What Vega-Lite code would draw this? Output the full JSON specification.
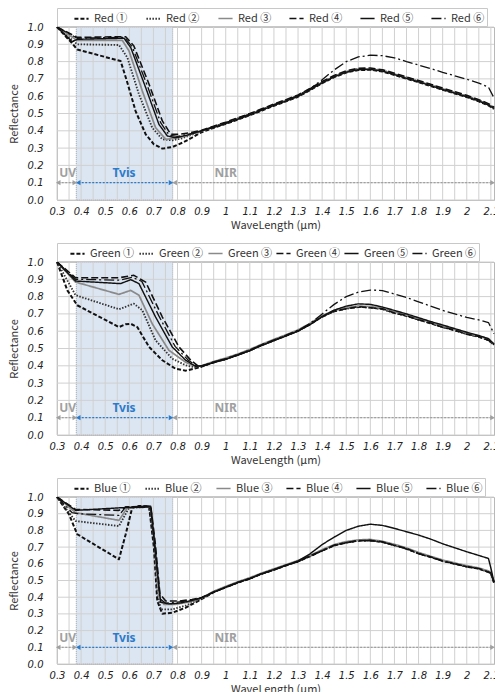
{
"$schema":"https://vega.github.io/schema/vega-lite/v6.json",
"padding":{"left":7,"top":7,"right":0,"bottom":0},
"background":"white",
"spacing":11,
"config":{"view":{"stroke":"#b8b8b8","strokeWidth":1},
"axisX":{"grid":false,"ticks":false,"domain":false,"labelFont":"DejaVu Sans","labelFontStyle":"italic","labelFontSize":10,"labelColor":"#222","labelPadding":6,"labelFlush":false,"titleFont":"Noto Sans CJK KR","titleFontSize":11,"titleFontWeight":"normal","titleColor":"#333","titlePadding":3},
"axisY":{"grid":false,"ticks":false,"domain":false,"labelFont":"DejaVu Sans","labelFontStyle":"italic","labelFontSize":10,"labelColor":"#222","labelPadding":14,"titleFont":"Noto Sans CJK KR","titleFontSize":11,"titleFontWeight":"normal","titleColor":"#333","titlePadding":8},
"legend":{"orient":"none","legendX":0,"legendY":-19,"direction":"horizontal","columns":6,"symbolType":"stroke","symbolSize":200,"symbolStrokeWidth":1.6,"labelFont":"Noto Sans CJK KR","labelFontSize":11,"labelColor":"#333","labelOffset":4,"padding":2,"strokeColor":"#c8c8c8","titleOrient":"left","titlePadding":14,"titleFontSize":11}},
"datasets":{
"band":[{"x":0.38,"x2":0.78,"y":0,"y2":1}],
"gx":[{"v":0.3},{"v":0.35},{"v":0.4},{"v":0.45},{"v":0.5},{"v":0.55},{"v":0.6},{"v":0.65},{"v":0.7},{"v":0.75},{"v":0.8},{"v":0.85},{"v":0.9},{"v":0.95},{"v":1.0},{"v":1.05},{"v":1.1},{"v":1.15},{"v":1.2},{"v":1.25},{"v":1.3},{"v":1.35},{"v":1.4},{"v":1.45},{"v":1.5},{"v":1.55},{"v":1.6},{"v":1.65},{"v":1.7},{"v":1.75},{"v":1.8},{"v":1.85},{"v":1.9},{"v":1.95},{"v":2.0},{"v":2.05},{"v":2.1}],
"gy":[{"v":0},{"v":0.1},{"v":0.2},{"v":0.3},{"v":0.4},{"v":0.5},{"v":0.6},{"v":0.7},{"v":0.8},{"v":0.9},{"v":1}],
"zones":[{"zone":"UV","x":0.305,"x2":0.374,"lx":0.344},{"zone":"Tvis","x":0.388,"x2":0.773,"lx":0.578},{"zone":"NIR","x":0.788,"x2":2.107,"lx":1.0}],
"red":[
{"s":"Red ①","x":0.3,"y":1},{"s":"Red ①","x":0.36,"y":0.91},{"s":"Red ①","x":0.384,"y":0.87},{"s":"Red ①","x":0.564,"y":0.803},{"s":"Red ①","x":0.592,"y":0.678},{"s":"Red ①","x":0.626,"y":0.514},{"s":"Red ①","x":0.668,"y":0.38},{"s":"Red ①","x":0.702,"y":0.322},{"s":"Red ①","x":0.737,"y":0.297},{"s":"Red ①","x":0.778,"y":0.306},{"s":"Red ①","x":0.82,"y":0.331},{"s":"Red ①","x":0.86,"y":0.36},{"s":"Red ①","x":0.9,"y":0.392},
{"s":"Red ①","x":0.95,"y":0.417},{"s":"Red ①","x":1.0,"y":0.44},{"s":"Red ①","x":1.05,"y":0.465},{"s":"Red ①","x":1.1,"y":0.49},{"s":"Red ①","x":1.15,"y":0.517},{"s":"Red ①","x":1.2,"y":0.545},{"s":"Red ①","x":1.25,"y":0.57},{"s":"Red ①","x":1.3,"y":0.597},{"s":"Red ①","x":1.35,"y":0.635},{"s":"Red ①","x":1.4,"y":0.675},{"s":"Red ①","x":1.45,"y":0.71},{"s":"Red ①","x":1.5,"y":0.737},{"s":"Red ①","x":1.55,"y":0.751},{"s":"Red ①","x":1.6,"y":0.753},{"s":"Red ①","x":1.65,"y":0.743},{"s":"Red ①","x":1.7,"y":0.723},{"s":"Red ①","x":1.75,"y":0.701},{"s":"Red ①","x":1.8,"y":0.681},{"s":"Red ①","x":1.85,"y":0.659},{"s":"Red ①","x":1.9,"y":0.637},{"s":"Red ①","x":1.95,"y":0.616},{"s":"Red ①","x":2.0,"y":0.595},{"s":"Red ①","x":2.05,"y":0.57},{"s":"Red ①","x":2.09,"y":0.547},{"s":"Red ①","x":2.113,"y":0.527},
{"s":"Red ②","x":0.3,"y":1},{"s":"Red ②","x":0.384,"y":0.9},{"s":"Red ②","x":0.557,"y":0.896},{"s":"Red ②","x":0.592,"y":0.823},{"s":"Red ②","x":0.64,"y":0.611},{"s":"Red ②","x":0.695,"y":0.418},{"s":"Red ②","x":0.737,"y":0.351},{"s":"Red ②","x":0.778,"y":0.345},{"s":"Red ②","x":0.82,"y":0.357},{"s":"Red ②","x":0.86,"y":0.378},{"s":"Red ②","x":0.9,"y":0.398},
{"s":"Red ②","x":0.95,"y":0.424},{"s":"Red ②","x":1.0,"y":0.443},{"s":"Red ②","x":1.05,"y":0.472},{"s":"Red ②","x":1.1,"y":0.493},{"s":"Red ②","x":1.15,"y":0.524},{"s":"Red ②","x":1.2,"y":0.548},{"s":"Red ②","x":1.25,"y":0.577},{"s":"Red ②","x":1.3,"y":0.6},{"s":"Red ②","x":1.35,"y":0.642},{"s":"Red ②","x":1.4,"y":0.678},{"s":"Red ②","x":1.45,"y":0.717},{"s":"Red ②","x":1.5,"y":0.74},{"s":"Red ②","x":1.55,"y":0.758},{"s":"Red ②","x":1.6,"y":0.756},{"s":"Red ②","x":1.65,"y":0.75},{"s":"Red ②","x":1.7,"y":0.726},{"s":"Red ②","x":1.75,"y":0.708},{"s":"Red ②","x":1.8,"y":0.684},{"s":"Red ②","x":1.85,"y":0.666},{"s":"Red ②","x":1.9,"y":0.64},{"s":"Red ②","x":1.95,"y":0.623},{"s":"Red ②","x":2.0,"y":0.598},{"s":"Red ②","x":2.05,"y":0.577},{"s":"Red ②","x":2.09,"y":0.55},{"s":"Red ②","x":2.113,"y":0.534},
{"s":"Red ③","x":0.3,"y":1},{"s":"Red ③","x":0.384,"y":0.922},{"s":"Red ③","x":0.571,"y":0.923},{"s":"Red ③","x":0.599,"y":0.861},{"s":"Red ③","x":0.654,"y":0.63},{"s":"Red ③","x":0.709,"y":0.418},{"s":"Red ③","x":0.751,"y":0.351},{"s":"Red ③","x":0.792,"y":0.357},{"s":"Red ③","x":0.84,"y":0.372},{"s":"Red ③","x":0.9,"y":0.4},
{"s":"Red ③","x":0.95,"y":0.422},{"s":"Red ③","x":1.0,"y":0.445},{"s":"Red ③","x":1.05,"y":0.47},{"s":"Red ③","x":1.1,"y":0.495},{"s":"Red ③","x":1.15,"y":0.522},{"s":"Red ③","x":1.2,"y":0.55},{"s":"Red ③","x":1.25,"y":0.575},{"s":"Red ③","x":1.3,"y":0.602},{"s":"Red ③","x":1.35,"y":0.64},{"s":"Red ③","x":1.4,"y":0.68},{"s":"Red ③","x":1.45,"y":0.715},{"s":"Red ③","x":1.5,"y":0.742},{"s":"Red ③","x":1.55,"y":0.756},{"s":"Red ③","x":1.6,"y":0.758},{"s":"Red ③","x":1.65,"y":0.748},{"s":"Red ③","x":1.7,"y":0.728},{"s":"Red ③","x":1.75,"y":0.706},{"s":"Red ③","x":1.8,"y":0.686},{"s":"Red ③","x":1.85,"y":0.664},{"s":"Red ③","x":1.9,"y":0.642},{"s":"Red ③","x":1.95,"y":0.621},{"s":"Red ③","x":2.0,"y":0.6},{"s":"Red ③","x":2.05,"y":0.575},{"s":"Red ③","x":2.09,"y":0.552},{"s":"Red ③","x":2.113,"y":0.532},
{"s":"Red ④","x":0.3,"y":1},{"s":"Red ④","x":0.384,"y":0.94},{"s":"Red ④","x":0.585,"y":0.944},{"s":"Red ④","x":0.619,"y":0.89},{"s":"Red ④","x":0.682,"y":0.669},{"s":"Red ④","x":0.737,"y":0.457},{"s":"Red ④","x":0.772,"y":0.38},{"s":"Red ④","x":0.806,"y":0.38},{"s":"Red ④","x":0.85,"y":0.388},{"s":"Red ④","x":0.9,"y":0.403},
{"s":"Red ④","x":0.95,"y":0.427},{"s":"Red ④","x":1.0,"y":0.45},{"s":"Red ④","x":1.05,"y":0.475},{"s":"Red ④","x":1.1,"y":0.5},{"s":"Red ④","x":1.15,"y":0.527},{"s":"Red ④","x":1.2,"y":0.555},{"s":"Red ④","x":1.25,"y":0.58},{"s":"Red ④","x":1.3,"y":0.607},{"s":"Red ④","x":1.35,"y":0.645},{"s":"Red ④","x":1.4,"y":0.685},{"s":"Red ④","x":1.45,"y":0.72},{"s":"Red ④","x":1.5,"y":0.747},{"s":"Red ④","x":1.55,"y":0.761},{"s":"Red ④","x":1.6,"y":0.763},{"s":"Red ④","x":1.65,"y":0.753},{"s":"Red ④","x":1.7,"y":0.733},{"s":"Red ④","x":1.75,"y":0.711},{"s":"Red ④","x":1.8,"y":0.691},{"s":"Red ④","x":1.85,"y":0.669},{"s":"Red ④","x":1.9,"y":0.647},{"s":"Red ④","x":1.95,"y":0.626},{"s":"Red ④","x":2.0,"y":0.605},{"s":"Red ④","x":2.05,"y":0.58},{"s":"Red ④","x":2.09,"y":0.557},{"s":"Red ④","x":2.113,"y":0.537},
{"s":"Red ⑤","x":0.3,"y":1},{"s":"Red ⑤","x":0.363,"y":0.915},{"s":"Red ⑤","x":0.384,"y":0.929},{"s":"Red ⑤","x":0.578,"y":0.935},{"s":"Red ⑤","x":0.606,"y":0.881},{"s":"Red ⑤","x":0.668,"y":0.649},{"s":"Red ⑤","x":0.723,"y":0.437},{"s":"Red ⑤","x":0.758,"y":0.37},{"s":"Red ⑤","x":0.792,"y":0.36},{"s":"Red ⑤","x":0.84,"y":0.375},{"s":"Red ⑤","x":0.9,"y":0.4},
{"s":"Red ⑤","x":0.95,"y":0.419},{"s":"Red ⑤","x":1.0,"y":0.442},{"s":"Red ⑤","x":1.05,"y":0.467},{"s":"Red ⑤","x":1.1,"y":0.492},{"s":"Red ⑤","x":1.15,"y":0.519},{"s":"Red ⑤","x":1.2,"y":0.547},{"s":"Red ⑤","x":1.25,"y":0.572},{"s":"Red ⑤","x":1.3,"y":0.599},{"s":"Red ⑤","x":1.35,"y":0.637},{"s":"Red ⑤","x":1.4,"y":0.677},{"s":"Red ⑤","x":1.45,"y":0.712},{"s":"Red ⑤","x":1.5,"y":0.739},{"s":"Red ⑤","x":1.55,"y":0.753},{"s":"Red ⑤","x":1.6,"y":0.755},{"s":"Red ⑤","x":1.65,"y":0.745},{"s":"Red ⑤","x":1.7,"y":0.725},{"s":"Red ⑤","x":1.75,"y":0.703},{"s":"Red ⑤","x":1.8,"y":0.683},{"s":"Red ⑤","x":1.85,"y":0.661},{"s":"Red ⑤","x":1.9,"y":0.639},{"s":"Red ⑤","x":1.95,"y":0.618},{"s":"Red ⑤","x":2.0,"y":0.597},{"s":"Red ⑤","x":2.05,"y":0.572},{"s":"Red ⑤","x":2.09,"y":0.549},{"s":"Red ⑤","x":2.113,"y":0.529},
{"s":"Red ⑥","x":0.3,"y":1},{"s":"Red ⑥","x":0.384,"y":0.935},{"s":"Red ⑥","x":0.58,"y":0.94},{"s":"Red ⑥","x":0.612,"y":0.886},{"s":"Red ⑥","x":0.675,"y":0.66},{"s":"Red ⑥","x":0.73,"y":0.447},{"s":"Red ⑥","x":0.765,"y":0.375},{"s":"Red ⑥","x":0.8,"y":0.368},{"s":"Red ⑥","x":0.85,"y":0.382},{"s":"Red ⑥","x":0.9,"y":0.401},
{"s":"Red ⑥","x":0.95,"y":0.424},{"s":"Red ⑥","x":1.0,"y":0.447},{"s":"Red ⑥","x":1.05,"y":0.472},{"s":"Red ⑥","x":1.1,"y":0.497},{"s":"Red ⑥","x":1.15,"y":0.524},{"s":"Red ⑥","x":1.2,"y":0.552},{"s":"Red ⑥","x":1.25,"y":0.577},{"s":"Red ⑥","x":1.3,"y":0.604},{"s":"Red ⑥","x":1.35,"y":0.643},{"s":"Red ⑥","x":1.4,"y":0.695},{"s":"Red ⑥","x":1.45,"y":0.752},{"s":"Red ⑥","x":1.5,"y":0.8},{"s":"Red ⑥","x":1.55,"y":0.827},{"s":"Red ⑥","x":1.6,"y":0.837},{"s":"Red ⑥","x":1.65,"y":0.834},{"s":"Red ⑥","x":1.7,"y":0.822},{"s":"Red ⑥","x":1.75,"y":0.8},{"s":"Red ⑥","x":1.8,"y":0.78},{"s":"Red ⑥","x":1.85,"y":0.76},{"s":"Red ⑥","x":1.9,"y":0.738},{"s":"Red ⑥","x":1.95,"y":0.718},{"s":"Red ⑥","x":2.0,"y":0.698},{"s":"Red ⑥","x":2.05,"y":0.676},{"s":"Red ⑥","x":2.09,"y":0.652},{"s":"Red ⑥","x":2.113,"y":0.59}
],
"green":[
{"s":"Green ①","x":0.3,"y":1},{"s":"Green ①","x":0.343,"y":0.836},{"s":"Green ①","x":0.384,"y":0.75},{"s":"Green ①","x":0.557,"y":0.624},{"s":"Green ①","x":0.585,"y":0.64},{"s":"Green ①","x":0.606,"y":0.643},{"s":"Green ①","x":0.633,"y":0.624},{"s":"Green ①","x":0.682,"y":0.509},{"s":"Green ①","x":0.737,"y":0.432},{"s":"Green ①","x":0.792,"y":0.383},{"s":"Green ①","x":0.834,"y":0.372},{"s":"Green ①","x":0.875,"y":0.385},{"s":"Green ①","x":0.9,"y":0.395},
{"s":"Green ①","x":0.95,"y":0.42},{"s":"Green ①","x":1.0,"y":0.44},{"s":"Green ①","x":1.05,"y":0.463},{"s":"Green ①","x":1.1,"y":0.49},{"s":"Green ①","x":1.15,"y":0.52},{"s":"Green ①","x":1.2,"y":0.548},{"s":"Green ①","x":1.25,"y":0.574},{"s":"Green ①","x":1.3,"y":0.603},{"s":"Green ①","x":1.35,"y":0.64},{"s":"Green ①","x":1.4,"y":0.685},{"s":"Green ①","x":1.45,"y":0.715},{"s":"Green ①","x":1.5,"y":0.732},{"s":"Green ①","x":1.55,"y":0.74},{"s":"Green ①","x":1.6,"y":0.738},{"s":"Green ①","x":1.65,"y":0.728},{"s":"Green ①","x":1.7,"y":0.707},{"s":"Green ①","x":1.75,"y":0.688},{"s":"Green ①","x":1.8,"y":0.668},{"s":"Green ①","x":1.85,"y":0.645},{"s":"Green ①","x":1.9,"y":0.625},{"s":"Green ①","x":1.95,"y":0.605},{"s":"Green ①","x":2.0,"y":0.585},{"s":"Green ①","x":2.05,"y":0.567},{"s":"Green ①","x":2.09,"y":0.55},{"s":"Green ①","x":2.113,"y":0.52},
{"s":"Green ②","x":0.3,"y":1},{"s":"Green ②","x":0.377,"y":0.808},{"s":"Green ②","x":0.557,"y":0.727},{"s":"Green ②","x":0.619,"y":0.759},{"s":"Green ②","x":0.654,"y":0.721},{"s":"Green ②","x":0.709,"y":0.547},{"s":"Green ②","x":0.778,"y":0.441},{"s":"Green ②","x":0.834,"y":0.403},{"s":"Green ②","x":0.875,"y":0.39},{"s":"Green ②","x":0.9,"y":0.398},
{"s":"Green ②","x":0.95,"y":0.422},{"s":"Green ②","x":1.0,"y":0.438},{"s":"Green ②","x":1.05,"y":0.465},{"s":"Green ②","x":1.1,"y":0.488},{"s":"Green ②","x":1.15,"y":0.522},{"s":"Green ②","x":1.2,"y":0.546},{"s":"Green ②","x":1.25,"y":0.576},{"s":"Green ②","x":1.3,"y":0.601},{"s":"Green ②","x":1.35,"y":0.642},{"s":"Green ②","x":1.4,"y":0.683},{"s":"Green ②","x":1.45,"y":0.717},{"s":"Green ②","x":1.5,"y":0.73},{"s":"Green ②","x":1.55,"y":0.742},{"s":"Green ②","x":1.6,"y":0.736},{"s":"Green ②","x":1.65,"y":0.73},{"s":"Green ②","x":1.7,"y":0.705},{"s":"Green ②","x":1.75,"y":0.69},{"s":"Green ②","x":1.8,"y":0.666},{"s":"Green ②","x":1.85,"y":0.647},{"s":"Green ②","x":1.9,"y":0.623},{"s":"Green ②","x":1.95,"y":0.607},{"s":"Green ②","x":2.0,"y":0.583},{"s":"Green ②","x":2.05,"y":0.569},{"s":"Green ②","x":2.09,"y":0.548},{"s":"Green ②","x":2.113,"y":0.522},
{"s":"Green ③","x":0.3,"y":1},{"s":"Green ③","x":0.377,"y":0.884},{"s":"Green ③","x":0.557,"y":0.813},{"s":"Green ③","x":0.606,"y":0.836},{"s":"Green ③","x":0.64,"y":0.808},{"s":"Green ③","x":0.695,"y":0.643},{"s":"Green ③","x":0.764,"y":0.49},{"s":"Green ③","x":0.834,"y":0.42},{"s":"Green ③","x":0.875,"y":0.397},{"s":"Green ③","x":0.9,"y":0.4},
{"s":"Green ③","x":0.95,"y":0.425},{"s":"Green ③","x":1.0,"y":0.445},{"s":"Green ③","x":1.05,"y":0.468},{"s":"Green ③","x":1.1,"y":0.495},{"s":"Green ③","x":1.15,"y":0.525},{"s":"Green ③","x":1.2,"y":0.553},{"s":"Green ③","x":1.25,"y":0.579},{"s":"Green ③","x":1.3,"y":0.608},{"s":"Green ③","x":1.35,"y":0.645},{"s":"Green ③","x":1.4,"y":0.69},{"s":"Green ③","x":1.45,"y":0.72},{"s":"Green ③","x":1.5,"y":0.737},{"s":"Green ③","x":1.55,"y":0.745},{"s":"Green ③","x":1.6,"y":0.743},{"s":"Green ③","x":1.65,"y":0.733},{"s":"Green ③","x":1.7,"y":0.712},{"s":"Green ③","x":1.75,"y":0.693},{"s":"Green ③","x":1.8,"y":0.673},{"s":"Green ③","x":1.85,"y":0.65},{"s":"Green ③","x":1.9,"y":0.63},{"s":"Green ③","x":1.95,"y":0.61},{"s":"Green ③","x":2.0,"y":0.59},{"s":"Green ③","x":2.05,"y":0.572},{"s":"Green ③","x":2.09,"y":0.555},{"s":"Green ③","x":2.113,"y":0.525},
{"s":"Green ④","x":0.3,"y":1},{"s":"Green ④","x":0.377,"y":0.909},{"s":"Green ④","x":0.557,"y":0.909},{"s":"Green ④","x":0.619,"y":0.923},{"s":"Green ④","x":0.668,"y":0.884},{"s":"Green ④","x":0.737,"y":0.682},{"s":"Green ④","x":0.806,"y":0.509},{"s":"Green ④","x":0.855,"y":0.432},{"s":"Green ④","x":0.889,"y":0.395},{"s":"Green ④","x":0.92,"y":0.405},
{"s":"Green ④","x":0.95,"y":0.422},{"s":"Green ④","x":1.0,"y":0.438},{"s":"Green ④","x":1.05,"y":0.465},{"s":"Green ④","x":1.1,"y":0.488},{"s":"Green ④","x":1.15,"y":0.522},{"s":"Green ④","x":1.2,"y":0.546},{"s":"Green ④","x":1.25,"y":0.576},{"s":"Green ④","x":1.3,"y":0.601},{"s":"Green ④","x":1.35,"y":0.642},{"s":"Green ④","x":1.4,"y":0.683},{"s":"Green ④","x":1.45,"y":0.717},{"s":"Green ④","x":1.5,"y":0.73},{"s":"Green ④","x":1.55,"y":0.742},{"s":"Green ④","x":1.6,"y":0.736},{"s":"Green ④","x":1.65,"y":0.73},{"s":"Green ④","x":1.7,"y":0.705},{"s":"Green ④","x":1.75,"y":0.69},{"s":"Green ④","x":1.8,"y":0.666},{"s":"Green ④","x":1.85,"y":0.647},{"s":"Green ④","x":1.9,"y":0.623},{"s":"Green ④","x":1.95,"y":0.607},{"s":"Green ④","x":2.0,"y":0.583},{"s":"Green ④","x":2.05,"y":0.569},{"s":"Green ④","x":2.09,"y":0.548},{"s":"Green ④","x":2.113,"y":0.522},
{"s":"Green ⑤","x":0.3,"y":1},{"s":"Green ⑤","x":0.377,"y":0.89},{"s":"Green ⑤","x":0.564,"y":0.875},{"s":"Green ⑤","x":0.606,"y":0.898},{"s":"Green ⑤","x":0.64,"y":0.875},{"s":"Green ⑤","x":0.709,"y":0.682},{"s":"Green ⑤","x":0.778,"y":0.509},{"s":"Green ⑤","x":0.834,"y":0.432},{"s":"Green ⑤","x":0.875,"y":0.397},{"s":"Green ⑤","x":0.9,"y":0.4},
{"s":"Green ⑤","x":0.95,"y":0.418},{"s":"Green ⑤","x":1.0,"y":0.438},{"s":"Green ⑤","x":1.05,"y":0.461},{"s":"Green ⑤","x":1.1,"y":0.488},{"s":"Green ⑤","x":1.15,"y":0.518},{"s":"Green ⑤","x":1.2,"y":0.546},{"s":"Green ⑤","x":1.25,"y":0.572},{"s":"Green ⑤","x":1.3,"y":0.601},{"s":"Green ⑤","x":1.35,"y":0.638},{"s":"Green ⑤","x":1.4,"y":0.685},{"s":"Green ⑤","x":1.45,"y":0.722},{"s":"Green ⑤","x":1.5,"y":0.745},{"s":"Green ⑤","x":1.55,"y":0.758},{"s":"Green ⑤","x":1.6,"y":0.755},{"s":"Green ⑤","x":1.65,"y":0.74},{"s":"Green ⑤","x":1.7,"y":0.72},{"s":"Green ⑤","x":1.75,"y":0.7},{"s":"Green ⑤","x":1.8,"y":0.678},{"s":"Green ⑤","x":1.85,"y":0.656},{"s":"Green ⑤","x":1.9,"y":0.636},{"s":"Green ⑤","x":1.95,"y":0.615},{"s":"Green ⑤","x":2.0,"y":0.594},{"s":"Green ⑤","x":2.05,"y":0.575},{"s":"Green ⑤","x":2.09,"y":0.557},{"s":"Green ⑤","x":2.113,"y":0.525},
{"s":"Green ⑥","x":0.3,"y":1},{"s":"Green ⑥","x":0.377,"y":0.9},{"s":"Green ⑥","x":0.56,"y":0.895},{"s":"Green ⑥","x":0.612,"y":0.912},{"s":"Green ⑥","x":0.652,"y":0.888},{"s":"Green ⑥","x":0.722,"y":0.69},{"s":"Green ⑥","x":0.79,"y":0.512},{"s":"Green ⑥","x":0.845,"y":0.432},{"s":"Green ⑥","x":0.882,"y":0.396},{"s":"Green ⑥","x":0.91,"y":0.402},
{"s":"Green ⑥","x":0.95,"y":0.422},{"s":"Green ⑥","x":1.0,"y":0.442},{"s":"Green ⑥","x":1.05,"y":0.465},{"s":"Green ⑥","x":1.1,"y":0.492},{"s":"Green ⑥","x":1.15,"y":0.522},{"s":"Green ⑥","x":1.2,"y":0.55},{"s":"Green ⑥","x":1.25,"y":0.576},{"s":"Green ⑥","x":1.3,"y":0.605},{"s":"Green ⑥","x":1.35,"y":0.645},{"s":"Green ⑥","x":1.4,"y":0.7},{"s":"Green ⑥","x":1.45,"y":0.755},{"s":"Green ⑥","x":1.5,"y":0.8},{"s":"Green ⑥","x":1.55,"y":0.826},{"s":"Green ⑥","x":1.6,"y":0.838},{"s":"Green ⑥","x":1.65,"y":0.835},{"s":"Green ⑥","x":1.7,"y":0.815},{"s":"Green ⑥","x":1.75,"y":0.795},{"s":"Green ⑥","x":1.8,"y":0.77},{"s":"Green ⑥","x":1.85,"y":0.745},{"s":"Green ⑥","x":1.9,"y":0.72},{"s":"Green ⑥","x":1.95,"y":0.7},{"s":"Green ⑥","x":2.0,"y":0.68},{"s":"Green ⑥","x":2.05,"y":0.665},{"s":"Green ⑥","x":2.09,"y":0.65},{"s":"Green ⑥","x":2.113,"y":0.586}
],
"blue":[
{"s":"Blue ①","x":0.3,"y":1},{"s":"Blue ①","x":0.35,"y":0.896},{"s":"Blue ①","x":0.384,"y":0.777},{"s":"Blue ①","x":0.557,"y":0.627},{"s":"Blue ①","x":0.585,"y":0.777},{"s":"Blue ①","x":0.612,"y":0.936},{"s":"Blue ①","x":0.64,"y":0.946},{"s":"Blue ①","x":0.682,"y":0.944},{"s":"Blue ①","x":0.702,"y":0.697},{"s":"Blue ①","x":0.716,"y":0.377},{"s":"Blue ①","x":0.737,"y":0.301},{"s":"Blue ①","x":0.778,"y":0.307},{"s":"Blue ①","x":0.834,"y":0.337},{"s":"Blue ①","x":0.889,"y":0.38},{"s":"Blue ①","x":0.92,"y":0.405},
{"s":"Blue ①","x":0.95,"y":0.43},{"s":"Blue ①","x":1.0,"y":0.46},{"s":"Blue ①","x":1.05,"y":0.487},{"s":"Blue ①","x":1.1,"y":0.512},{"s":"Blue ①","x":1.15,"y":0.54},{"s":"Blue ①","x":1.2,"y":0.565},{"s":"Blue ①","x":1.25,"y":0.59},{"s":"Blue ①","x":1.3,"y":0.615},{"s":"Blue ①","x":1.35,"y":0.645},{"s":"Blue ①","x":1.4,"y":0.68},{"s":"Blue ①","x":1.45,"y":0.71},{"s":"Blue ①","x":1.5,"y":0.728},{"s":"Blue ①","x":1.55,"y":0.738},{"s":"Blue ①","x":1.6,"y":0.741},{"s":"Blue ①","x":1.65,"y":0.73},{"s":"Blue ①","x":1.7,"y":0.712},{"s":"Blue ①","x":1.75,"y":0.69},{"s":"Blue ①","x":1.8,"y":0.663},{"s":"Blue ①","x":1.85,"y":0.64},{"s":"Blue ①","x":1.9,"y":0.618},{"s":"Blue ①","x":1.95,"y":0.6},{"s":"Blue ①","x":2.0,"y":0.584},{"s":"Blue ①","x":2.05,"y":0.57},{"s":"Blue ①","x":2.09,"y":0.552},{"s":"Blue ①","x":2.1,"y":0.545},{"s":"Blue ①","x":2.113,"y":0.487},
{"s":"Blue ②","x":0.3,"y":1},{"s":"Blue ②","x":0.377,"y":0.856},{"s":"Blue ②","x":0.557,"y":0.826},{"s":"Blue ②","x":0.599,"y":0.936},{"s":"Blue ②","x":0.682,"y":0.94},{"s":"Blue ②","x":0.702,"y":0.75},{"s":"Blue ②","x":0.716,"y":0.44},{"s":"Blue ②","x":0.73,"y":0.327},{"s":"Blue ②","x":0.778,"y":0.327},{"s":"Blue ②","x":0.834,"y":0.35},{"s":"Blue ②","x":0.889,"y":0.385},{"s":"Blue ②","x":0.92,"y":0.408},
{"s":"Blue ②","x":0.95,"y":0.432},{"s":"Blue ②","x":1.0,"y":0.458},{"s":"Blue ②","x":1.05,"y":0.489},{"s":"Blue ②","x":1.1,"y":0.51},{"s":"Blue ②","x":1.15,"y":0.542},{"s":"Blue ②","x":1.2,"y":0.563},{"s":"Blue ②","x":1.25,"y":0.592},{"s":"Blue ②","x":1.3,"y":0.613},{"s":"Blue ②","x":1.35,"y":0.647},{"s":"Blue ②","x":1.4,"y":0.678},{"s":"Blue ②","x":1.45,"y":0.712},{"s":"Blue ②","x":1.5,"y":0.726},{"s":"Blue ②","x":1.55,"y":0.74},{"s":"Blue ②","x":1.6,"y":0.739},{"s":"Blue ②","x":1.65,"y":0.732},{"s":"Blue ②","x":1.7,"y":0.71},{"s":"Blue ②","x":1.75,"y":0.692},{"s":"Blue ②","x":1.8,"y":0.661},{"s":"Blue ②","x":1.85,"y":0.642},{"s":"Blue ②","x":1.9,"y":0.616},{"s":"Blue ②","x":1.95,"y":0.602},{"s":"Blue ②","x":2.0,"y":0.582},{"s":"Blue ②","x":2.05,"y":0.572},{"s":"Blue ②","x":2.09,"y":0.55},{"s":"Blue ②","x":2.1,"y":0.543},{"s":"Blue ②","x":2.113,"y":0.489},
{"s":"Blue ③","x":0.3,"y":1},{"s":"Blue ③","x":0.377,"y":0.906},{"s":"Blue ③","x":0.557,"y":0.86},{"s":"Blue ③","x":0.592,"y":0.936},{"s":"Blue ③","x":0.689,"y":0.94},{"s":"Blue ③","x":0.706,"y":0.72},{"s":"Blue ③","x":0.723,"y":0.4},{"s":"Blue ③","x":0.744,"y":0.357},{"s":"Blue ③","x":0.792,"y":0.357},{"s":"Blue ③","x":0.85,"y":0.372},{"s":"Blue ③","x":0.9,"y":0.395},
{"s":"Blue ③","x":0.95,"y":0.435},{"s":"Blue ③","x":1.0,"y":0.465},{"s":"Blue ③","x":1.05,"y":0.492},{"s":"Blue ③","x":1.1,"y":0.517},{"s":"Blue ③","x":1.15,"y":0.545},{"s":"Blue ③","x":1.2,"y":0.57},{"s":"Blue ③","x":1.25,"y":0.595},{"s":"Blue ③","x":1.3,"y":0.62},{"s":"Blue ③","x":1.35,"y":0.65},{"s":"Blue ③","x":1.4,"y":0.685},{"s":"Blue ③","x":1.45,"y":0.715},{"s":"Blue ③","x":1.5,"y":0.733},{"s":"Blue ③","x":1.55,"y":0.743},{"s":"Blue ③","x":1.6,"y":0.746},{"s":"Blue ③","x":1.65,"y":0.735},{"s":"Blue ③","x":1.7,"y":0.717},{"s":"Blue ③","x":1.75,"y":0.695},{"s":"Blue ③","x":1.8,"y":0.668},{"s":"Blue ③","x":1.85,"y":0.645},{"s":"Blue ③","x":1.9,"y":0.623},{"s":"Blue ③","x":1.95,"y":0.605},{"s":"Blue ③","x":2.0,"y":0.589},{"s":"Blue ③","x":2.05,"y":0.575},{"s":"Blue ③","x":2.09,"y":0.557},{"s":"Blue ③","x":2.1,"y":0.55},{"s":"Blue ③","x":2.113,"y":0.492},
{"s":"Blue ④","x":0.3,"y":1},{"s":"Blue ④","x":0.377,"y":0.926},{"s":"Blue ④","x":0.557,"y":0.92},{"s":"Blue ④","x":0.585,"y":0.94},{"s":"Blue ④","x":0.689,"y":0.946},{"s":"Blue ④","x":0.708,"y":0.72},{"s":"Blue ④","x":0.727,"y":0.42},{"s":"Blue ④","x":0.751,"y":0.377},{"s":"Blue ④","x":0.806,"y":0.377},{"s":"Blue ④","x":0.86,"y":0.386},{"s":"Blue ④","x":0.9,"y":0.398},
{"s":"Blue ④","x":0.95,"y":0.432},{"s":"Blue ④","x":1.0,"y":0.458},{"s":"Blue ④","x":1.05,"y":0.489},{"s":"Blue ④","x":1.1,"y":0.51},{"s":"Blue ④","x":1.15,"y":0.542},{"s":"Blue ④","x":1.2,"y":0.563},{"s":"Blue ④","x":1.25,"y":0.592},{"s":"Blue ④","x":1.3,"y":0.613},{"s":"Blue ④","x":1.35,"y":0.647},{"s":"Blue ④","x":1.4,"y":0.678},{"s":"Blue ④","x":1.45,"y":0.712},{"s":"Blue ④","x":1.5,"y":0.726},{"s":"Blue ④","x":1.55,"y":0.74},{"s":"Blue ④","x":1.6,"y":0.739},{"s":"Blue ④","x":1.65,"y":0.732},{"s":"Blue ④","x":1.7,"y":0.71},{"s":"Blue ④","x":1.75,"y":0.692},{"s":"Blue ④","x":1.8,"y":0.661},{"s":"Blue ④","x":1.85,"y":0.642},{"s":"Blue ④","x":1.9,"y":0.616},{"s":"Blue ④","x":1.95,"y":0.602},{"s":"Blue ④","x":2.0,"y":0.582},{"s":"Blue ④","x":2.05,"y":0.572},{"s":"Blue ④","x":2.09,"y":0.55},{"s":"Blue ④","x":2.1,"y":0.543},{"s":"Blue ④","x":2.113,"y":0.489},
{"s":"Blue ⑤","x":0.3,"y":1},{"s":"Blue ⑤","x":0.377,"y":0.92},{"s":"Blue ⑤","x":0.571,"y":0.936},{"s":"Blue ⑤","x":0.689,"y":0.94},{"s":"Blue ⑤","x":0.706,"y":0.7},{"s":"Blue ⑤","x":0.73,"y":0.37},{"s":"Blue ⑤","x":0.764,"y":0.36},{"s":"Blue ⑤","x":0.81,"y":0.365},{"s":"Blue ⑤","x":0.86,"y":0.38},{"s":"Blue ⑤","x":0.9,"y":0.397},
{"s":"Blue ⑤","x":0.95,"y":0.43},{"s":"Blue ⑤","x":1.0,"y":0.461},{"s":"Blue ⑤","x":1.05,"y":0.488},{"s":"Blue ⑤","x":1.1,"y":0.513},{"s":"Blue ⑤","x":1.15,"y":0.541},{"s":"Blue ⑤","x":1.2,"y":0.566},{"s":"Blue ⑤","x":1.25,"y":0.591},{"s":"Blue ⑤","x":1.3,"y":0.617},{"s":"Blue ⑤","x":1.35,"y":0.66},{"s":"Blue ⑤","x":1.4,"y":0.715},{"s":"Blue ⑤","x":1.45,"y":0.76},{"s":"Blue ⑤","x":1.5,"y":0.8},{"s":"Blue ⑤","x":1.55,"y":0.825},{"s":"Blue ⑤","x":1.6,"y":0.837},{"s":"Blue ⑤","x":1.65,"y":0.83},{"s":"Blue ⑤","x":1.7,"y":0.812},{"s":"Blue ⑤","x":1.75,"y":0.792},{"s":"Blue ⑤","x":1.8,"y":0.772},{"s":"Blue ⑤","x":1.85,"y":0.748},{"s":"Blue ⑤","x":1.9,"y":0.72},{"s":"Blue ⑤","x":1.95,"y":0.696},{"s":"Blue ⑤","x":2.0,"y":0.672},{"s":"Blue ⑤","x":2.05,"y":0.65},{"s":"Blue ⑤","x":2.09,"y":0.632},{"s":"Blue ⑤","x":2.1,"y":0.575},{"s":"Blue ⑤","x":2.113,"y":0.49},
{"s":"Blue ⑥","x":0.3,"y":1},{"s":"Blue ⑥","x":0.363,"y":0.906},{"s":"Blue ⑥","x":0.384,"y":0.9},{"s":"Blue ⑥","x":0.557,"y":0.89},{"s":"Blue ⑥","x":0.585,"y":0.94},{"s":"Blue ⑥","x":0.689,"y":0.945},{"s":"Blue ⑥","x":0.706,"y":0.71},{"s":"Blue ⑥","x":0.727,"y":0.39},{"s":"Blue ⑥","x":0.75,"y":0.365},{"s":"Blue ⑥","x":0.8,"y":0.37},{"s":"Blue ⑥","x":0.86,"y":0.382},{"s":"Blue ⑥","x":0.9,"y":0.396},
{"s":"Blue ⑥","x":0.95,"y":0.43},{"s":"Blue ⑥","x":1.0,"y":0.46},{"s":"Blue ⑥","x":1.05,"y":0.487},{"s":"Blue ⑥","x":1.1,"y":0.512},{"s":"Blue ⑥","x":1.15,"y":0.54},{"s":"Blue ⑥","x":1.2,"y":0.565},{"s":"Blue ⑥","x":1.25,"y":0.59},{"s":"Blue ⑥","x":1.3,"y":0.615},{"s":"Blue ⑥","x":1.35,"y":0.645},{"s":"Blue ⑥","x":1.4,"y":0.68},{"s":"Blue ⑥","x":1.45,"y":0.71},{"s":"Blue ⑥","x":1.5,"y":0.728},{"s":"Blue ⑥","x":1.55,"y":0.738},{"s":"Blue ⑥","x":1.6,"y":0.741},{"s":"Blue ⑥","x":1.65,"y":0.73},{"s":"Blue ⑥","x":1.7,"y":0.712},{"s":"Blue ⑥","x":1.75,"y":0.69},{"s":"Blue ⑥","x":1.8,"y":0.663},{"s":"Blue ⑥","x":1.85,"y":0.64},{"s":"Blue ⑥","x":1.9,"y":0.618},{"s":"Blue ⑥","x":1.95,"y":0.6},{"s":"Blue ⑥","x":2.0,"y":0.584},{"s":"Blue ⑥","x":2.05,"y":0.57},{"s":"Blue ⑥","x":2.09,"y":0.552},{"s":"Blue ⑥","x":2.1,"y":0.545},{"s":"Blue ⑥","x":2.113,"y":0.487}
]},
"vconcat":[
{"width":437,"height":173,
"layer":[
{"data":{"name":"band"},"mark":{"type":"rect","fill":"#dce6f2","stroke":"#8c8c8c","strokeDash":[1,1],"strokeWidth":0.8},"encoding":{"x":{"field":"x","type":"quantitative","scale":{"domain":[0.3,2.113],"nice":false,"zero":false},"title":"WaveLength (μm)","axis":{"tickCount":20,"format":"~g","labelOverlap":false}},"x2":{"field":"x2"},"y":{"field":"y","type":"quantitative","scale":{"domain":[0,1],"nice":false},"title":"Reflectance","axis":{"tickCount":10,"format":".1f","labelOverlap":false}},"y2":{"field":"y2"}}},
{"data":{"name":"gx"},"mark":{"type":"rule","stroke":"#d0d0d0","strokeWidth":1},"encoding":{"x":{"field":"v","type":"quantitative","title":"WaveLength (μm)"}}},
{"data":{"name":"gy"},"mark":{"type":"rule","stroke":"#d0d0d0","strokeWidth":1},"encoding":{"y":{"field":"v","type":"quantitative","title":"Reflectance"}}},
{"data":{"name":"zones"},"mark":{"type":"rule","strokeDash":[2,1.5],"strokeWidth":1.2},"encoding":{"x":{"field":"x","type":"quantitative","title":"WaveLength (μm)"},"x2":{"field":"x2"},"y":{"datum":0.1,"type":"quantitative"},"stroke":{"field":"zone","type":"nominal","scale":{"domain":["UV","Tvis","NIR"],"range":["#a0a0a0","#2b7bcc","#a0a0a0"]},"legend":null}}},
{"data":{"name":"zones"},"mark":{"type":"point","shape":"triangle-left","filled":true,"size":28,"opacity":1},"encoding":{"x":{"field":"x","type":"quantitative","title":"WaveLength (μm)"},"y":{"datum":0.1,"type":"quantitative"},"fill":{"field":"zone","type":"nominal","scale":{"domain":["UV","Tvis","NIR"],"range":["#a0a0a0","#2b7bcc","#a0a0a0"]},"legend":null}}},
{"data":{"name":"zones"},"mark":{"type":"point","shape":"triangle-right","filled":true,"size":28,"opacity":1},"encoding":{"x":{"field":"x2","type":"quantitative","title":"WaveLength (μm)"},"y":{"datum":0.1,"type":"quantitative"},"fill":{"field":"zone","type":"nominal","legend":null}}},
{"data":{"name":"zones"},"mark":{"type":"text","font":"Noto Sans","fontSize":12,"fontWeight":"bold"},"encoding":{"x":{"field":"lx","type":"quantitative","title":"WaveLength (μm)"},"y":{"datum":0.155,"type":"quantitative"},"text":{"field":"zone"},"fill":{"field":"zone","type":"nominal","legend":null}}},
{"data":{"name":"red"},"mark":{"type":"line","strokeJoin":"round"},"encoding":{"x":{"field":"x","type":"quantitative","title":"WaveLength (μm)"},"y":{"field":"y","type":"quantitative","title":"Reflectance"},
"color":{"field":"s","type":"nominal","title":" ","scale":{"domain":["Red ①","Red ②","Red ③","Red ④","Red ⑤","Red ⑥"],"range":["#111","#333","#8a8a8a","#111","#111","#111"]},"legend":{"columnPadding":14}},
"strokeDash":{"field":"s","type":"nominal","title":" ","scale":{"domain":["Red ①","Red ②","Red ③","Red ④","Red ⑤","Red ⑥"],"range":[[4,2],[1.5,1.5],[1,0],[7,3],[1,0],[10,3,2,3]]},"legend":{"columnPadding":14}},
"strokeWidth":{"field":"s","type":"nominal","scale":{"domain":["Red ①","Red ②","Red ③","Red ④","Red ⑤","Red ⑥"],"range":[2,1.3,1.5,1.5,1.5,1.3]},"legend":null}}}
]},
{"width":437,"height":173,
"layer":[
{"data":{"name":"band"},"mark":{"type":"rect","fill":"#dce6f2","stroke":"#8c8c8c","strokeDash":[1,1],"strokeWidth":0.8},"encoding":{"x":{"field":"x","type":"quantitative","scale":{"domain":[0.3,2.113],"nice":false,"zero":false},"title":"WaveLength (μm)","axis":{"tickCount":20,"format":"~g","labelOverlap":false}},"x2":{"field":"x2"},"y":{"field":"y","type":"quantitative","scale":{"domain":[0,1],"nice":false},"title":"Reflectance","axis":{"tickCount":10,"format":".1f","labelOverlap":false}},"y2":{"field":"y2"}}},
{"data":{"name":"gx"},"mark":{"type":"rule","stroke":"#d0d0d0","strokeWidth":1},"encoding":{"x":{"field":"v","type":"quantitative","title":"WaveLength (μm)"}}},
{"data":{"name":"gy"},"mark":{"type":"rule","stroke":"#d0d0d0","strokeWidth":1},"encoding":{"y":{"field":"v","type":"quantitative","title":"Reflectance"}}},
{"data":{"name":"zones"},"mark":{"type":"rule","strokeDash":[2,1.5],"strokeWidth":1.2},"encoding":{"x":{"field":"x","type":"quantitative","title":"WaveLength (μm)"},"x2":{"field":"x2"},"y":{"datum":0.1,"type":"quantitative"},"stroke":{"field":"zone","type":"nominal","scale":{"domain":["UV","Tvis","NIR"],"range":["#a0a0a0","#2b7bcc","#a0a0a0"]},"legend":null}}},
{"data":{"name":"zones"},"mark":{"type":"point","shape":"triangle-left","filled":true,"size":28,"opacity":1},"encoding":{"x":{"field":"x","type":"quantitative","title":"WaveLength (μm)"},"y":{"datum":0.1,"type":"quantitative"},"fill":{"field":"zone","type":"nominal","scale":{"domain":["UV","Tvis","NIR"],"range":["#a0a0a0","#2b7bcc","#a0a0a0"]},"legend":null}}},
{"data":{"name":"zones"},"mark":{"type":"point","shape":"triangle-right","filled":true,"size":28,"opacity":1},"encoding":{"x":{"field":"x2","type":"quantitative","title":"WaveLength (μm)"},"y":{"datum":0.1,"type":"quantitative"},"fill":{"field":"zone","type":"nominal","legend":null}}},
{"data":{"name":"zones"},"mark":{"type":"text","font":"Noto Sans","fontSize":12,"fontWeight":"bold"},"encoding":{"x":{"field":"lx","type":"quantitative","title":"WaveLength (μm)"},"y":{"datum":0.155,"type":"quantitative"},"text":{"field":"zone"},"fill":{"field":"zone","type":"nominal","legend":null}}},
{"data":{"name":"green"},"mark":{"type":"line","strokeJoin":"round"},"encoding":{"x":{"field":"x","type":"quantitative","title":"WaveLength (μm)"},"y":{"field":"y","type":"quantitative","title":"Reflectance"},
"color":{"field":"s","type":"nominal","title":" ","scale":{"domain":["Green ①","Green ②","Green ③","Green ④","Green ⑤","Green ⑥"],"range":["#111","#333","#8a8a8a","#111","#111","#111"]},"legend":{"columnPadding":0,"titlePadding":10}},
"strokeDash":{"field":"s","type":"nominal","title":" ","scale":{"domain":["Green ①","Green ②","Green ③","Green ④","Green ⑤","Green ⑥"],"range":[[4,2],[1.5,1.5],[1,0],[7,3],[1,0],[10,3,2,3]]},"legend":{"columnPadding":0,"titlePadding":10}},
"strokeWidth":{"field":"s","type":"nominal","scale":{"domain":["Green ①","Green ②","Green ③","Green ④","Green ⑤","Green ⑥"],"range":[2,1.3,1.5,1.5,1.5,1.3]},"legend":null}}}
]},
{"width":437,"height":167,
"layer":[
{"data":{"name":"band"},"mark":{"type":"rect","fill":"#dce6f2","stroke":"#8c8c8c","strokeDash":[1,1],"strokeWidth":0.8},"encoding":{"x":{"field":"x","type":"quantitative","scale":{"domain":[0.3,2.113],"nice":false,"zero":false},"title":"WaveLength (μm)","axis":{"tickCount":20,"format":"~g","labelOverlap":false}},"x2":{"field":"x2"},"y":{"field":"y","type":"quantitative","scale":{"domain":[0,1],"nice":false},"title":"Reflectance","axis":{"tickCount":10,"format":".1f","labelOverlap":false}},"y2":{"field":"y2"}}},
{"data":{"name":"gx"},"mark":{"type":"rule","stroke":"#d0d0d0","strokeWidth":1},"encoding":{"x":{"field":"v","type":"quantitative","title":"WaveLength (μm)"}}},
{"data":{"name":"gy"},"mark":{"type":"rule","stroke":"#d0d0d0","strokeWidth":1},"encoding":{"y":{"field":"v","type":"quantitative","title":"Reflectance"}}},
{"data":{"name":"zones"},"mark":{"type":"rule","strokeDash":[2,1.5],"strokeWidth":1.2},"encoding":{"x":{"field":"x","type":"quantitative","title":"WaveLength (μm)"},"x2":{"field":"x2"},"y":{"datum":0.1,"type":"quantitative"},"stroke":{"field":"zone","type":"nominal","scale":{"domain":["UV","Tvis","NIR"],"range":["#a0a0a0","#2b7bcc","#a0a0a0"]},"legend":null}}},
{"data":{"name":"zones"},"mark":{"type":"point","shape":"triangle-left","filled":true,"size":28,"opacity":1},"encoding":{"x":{"field":"x","type":"quantitative","title":"WaveLength (μm)"},"y":{"datum":0.1,"type":"quantitative"},"fill":{"field":"zone","type":"nominal","scale":{"domain":["UV","Tvis","NIR"],"range":["#a0a0a0","#2b7bcc","#a0a0a0"]},"legend":null}}},
{"data":{"name":"zones"},"mark":{"type":"point","shape":"triangle-right","filled":true,"size":28,"opacity":1},"encoding":{"x":{"field":"x2","type":"quantitative","title":"WaveLength (μm)"},"y":{"datum":0.1,"type":"quantitative"},"fill":{"field":"zone","type":"nominal","legend":null}}},
{"data":{"name":"zones"},"mark":{"type":"text","font":"Noto Sans","fontSize":12,"fontWeight":"bold"},"encoding":{"x":{"field":"lx","type":"quantitative","title":"WaveLength (μm)"},"y":{"datum":0.155,"type":"quantitative"},"text":{"field":"zone"},"fill":{"field":"zone","type":"nominal","legend":null}}},
{"data":{"name":"blue"},"mark":{"type":"line","strokeJoin":"round"},"encoding":{"x":{"field":"x","type":"quantitative","title":"WaveLength (μm)"},"y":{"field":"y","type":"quantitative","title":"Reflectance"},
"color":{"field":"s","type":"nominal","title":" ","scale":{"domain":["Blue ①","Blue ②","Blue ③","Blue ④","Blue ⑤","Blue ⑥"],"range":["#111","#333","#8a8a8a","#111","#111","#111"]},"legend":{"columnPadding":10}},
"strokeDash":{"field":"s","type":"nominal","title":" ","scale":{"domain":["Blue ①","Blue ②","Blue ③","Blue ④","Blue ⑤","Blue ⑥"],"range":[[4,2],[1.5,1.5],[1,0],[7,3],[1,0],[10,3,2,3]]},"legend":{"columnPadding":10}},
"strokeWidth":{"field":"s","type":"nominal","scale":{"domain":["Blue ①","Blue ②","Blue ③","Blue ④","Blue ⑤","Blue ⑥"],"range":[2,1.3,1.5,1.5,1.5,1.3]},"legend":null}}}
]}
],
"resolve":{"scale":{"color":"independent","strokeDash":"independent","strokeWidth":"independent"},"legend":{"color":"independent","strokeDash":"independent"}}
}
